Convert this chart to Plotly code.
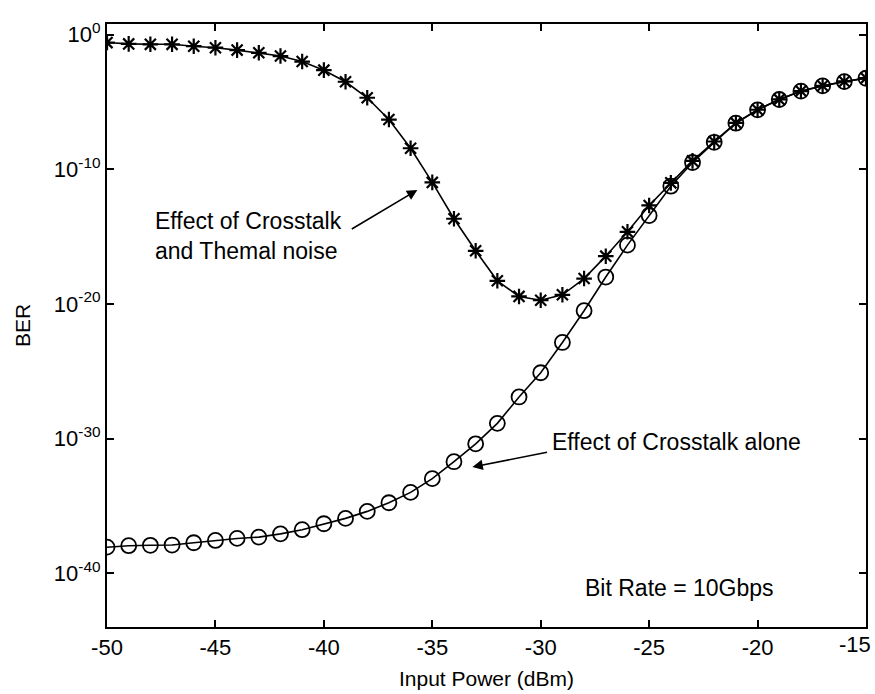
import plotly.graph_objects as go

# Input power (dBm)
power_dbm = [-50, -49, -48, -47, -46, -45, -44, -43, -42, -41, -40, -39, -38, -37, -36, -35, -34, -33,
             -32, -31, -30, -29, -28, -27, -26, -25, -24, -23, -22, -21, -20, -19, -18, -17, -16, -15]

# log10(BER): crosstalk + thermal noise (stars)
ber_exp_xt_thermal = [-0.58, -0.68, -0.71, -0.71, -0.85, -0.96, -1.14, -1.34, -1.58, -1.99, -2.63, -3.49,
                      -4.68, -6.30, -8.43, -10.97, -13.67, -16.05, -18.28, -19.44, -19.72, -19.32, -18.11,
                      -16.45, -14.64, -12.68, -11.00, -9.37, -7.93, -6.55, -5.57, -4.80, -4.18, -3.79,
                      -3.47, -3.22]

# log10(BER): crosstalk alone (circles)
ber_exp_xt_alone = [-38.07, -37.96, -37.93, -37.91, -37.74, -37.57, -37.42, -37.32, -37.08, -36.77, -36.33,
                    -35.93, -35.41, -34.77, -34.00, -32.98, -31.72, -30.39, -28.87, -26.91, -25.11, -22.86,
                    -20.50, -18.00, -15.63, -13.43, -11.25, -9.49, -7.99, -6.57, -5.58, -4.81, -4.19,
                    -3.80, -3.48, -3.23]

x_ticks = [-50, -45, -40, -35, -30, -25, -20, -15]
x_tick_text = ["-50", "-45", "-40", "-35", "-30", "-25", "-20", "-15"]
y_tick_exps = [0, -10, -20, -30, -40]
y_tick_text = ["10<sup>0</sup>", "10<sup>-10</sup>", "10<sup>-20</sup>", "10<sup>-30</sup>", "10<sup>-40</sup>"]

FONT = "Liberation Sans, Arial, sans-serif"

ber_xt_thermal = [10 ** e for e in ber_exp_xt_thermal]
ber_xt_alone = [10 ** e for e in ber_exp_xt_alone]

fig = go.Figure()
fig.add_trace(go.Scatter(
    x=power_dbm, y=ber_xt_alone, mode="lines+markers",
    line=dict(color="black", width=1.6),
    marker=dict(symbol="circle-open", size=15, color="black", line=dict(color="black", width=1.8)),
    showlegend=False))
fig.add_trace(go.Scatter(
    x=power_dbm, y=ber_xt_thermal, mode="lines+markers",
    line=dict(color="black", width=1.6),
    marker=dict(symbol="asterisk-open", size=13, color="black", line=dict(color="black", width=2.2)),
    showlegend=False))

TICK_SIZE = 22
axis_common = dict(
    showline=True, linecolor="black", linewidth=2, mirror="ticks",
    ticks="inside", ticklen=7, tickwidth=1.5, tickcolor="black",
    showgrid=False, zeroline=False,
    tickfont=dict(family=FONT, size=TICK_SIZE, color="black"),
    automargin=False,
)

# the last x tick label sits at the right edge of the page, so it is placed right-aligned
fig.update_xaxes(
    range=[-50, -15], tickvals=x_ticks, ticktext=x_tick_text[:-1] + [""],
    title=dict(text="Input Power (dBm)", font=dict(family=FONT, size=21, color="black"), standoff=12),
    **axis_common)
fig.add_annotation(x=x_ticks[-1], y=0, xref="x", yref="paper", text=x_tick_text[-1],
                   showarrow=False, xanchor="right", yanchor="top", xshift=7, yshift=-3,
                   font=dict(family=FONT, size=TICK_SIZE, color="black"))

fig.update_yaxes(
    type="log", range=[-44.0, 0.8],
    tickvals=[10 ** e for e in y_tick_exps], ticktext=y_tick_text,
    title=dict(text="BER", font=dict(family=FONT, size=21, color="black"), standoff=18),
    **axis_common)

ann_font = dict(family=FONT, size=23, color="black")
fig.add_annotation(x=-47.9, y=-14.95, xref="x", yref="y",
                   text="Effect of Crosstalk<br>and Themal noise", showarrow=False,
                   xanchor="left", yanchor="middle", align="left", font=ann_font)
fig.add_annotation(x=-35.69, y=-11.53, ax=-38.78, ay=-14.5, xref="x", yref="y", axref="x", ayref="y",
                   text="", showarrow=True, arrowhead=2, arrowsize=1.3, arrowwidth=1.6, arrowcolor="black")
fig.add_annotation(x=-17.9, y=-30.25, xref="x", yref="y",
                   text="Effect of Crosstalk alone", showarrow=False,
                   xanchor="right", yanchor="middle", font=ann_font)
fig.add_annotation(x=-33.15, y=-32.11, ax=-29.64, ay=-31.0, xref="x", yref="y", axref="x", ayref="y",
                   text="", showarrow=True, arrowhead=2, arrowsize=1.3, arrowwidth=1.6, arrowcolor="black")
fig.add_annotation(x=-28.07, y=-41.1, xref="x", yref="y",
                   text="Bit Rate = 10Gbps", showarrow=False,
                   xanchor="left", yanchor="middle", font=ann_font)

fig.update_layout(
    width=875, height=694,
    margin=dict(l=107, r=9, t=24, b=67),
    paper_bgcolor="white", plot_bgcolor="white",
    font=dict(family=FONT, color="black"),
)

fig.write_html("out.html")
